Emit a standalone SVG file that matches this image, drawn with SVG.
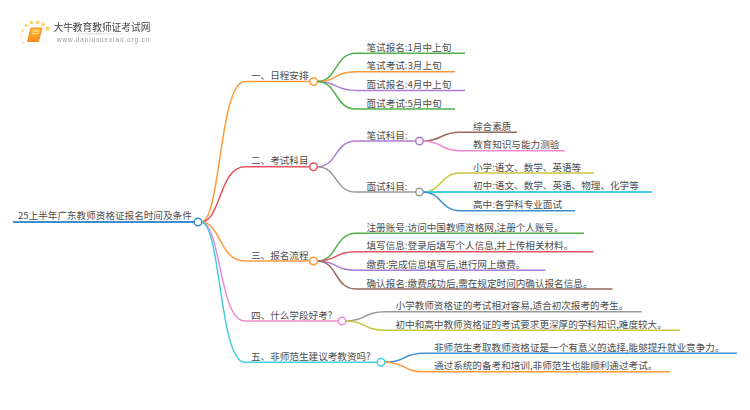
<svg xmlns="http://www.w3.org/2000/svg" width="750" height="410" viewBox="0 0 750 410">
<style>
text{font-family:"Noto Sans CJK SC","Liberation Sans",sans-serif;font-size:9.6px;fill:#4d4d4d}
.c{fill:none;stroke-width:1.5}
.n{fill:#fff;stroke-width:1.5}
.o{stroke:#ff9a3c}.r{stroke:#e5535b}.g{stroke:#4fb14a}.p{stroke:#a97fd4}.a{stroke:#999}
.b{stroke:#3f8fd0}.k{stroke:#f08bd0}.t{stroke:#45d0e0}.y{stroke:#c6c83e}.w{stroke:#9b6a5e}
</style>
<defs>
<linearGradient id="bk" x1="0" y1="0" x2="0" y2="1"><stop offset="0" stop-color="#ffc030"/><stop offset="1" stop-color="#f58a1f"/></linearGradient>
<linearGradient id="ul" x1="0" y1="0" x2="1" y2="0"><stop offset="0" stop-color="#ddd" stop-opacity="0"/><stop offset=".5" stop-color="#ccc"/><stop offset="1" stop-color="#ddd" stop-opacity="0"/></linearGradient>
<filter id="soft" x="-10%" y="-10%" width="120%" height="120%"><feGaussianBlur stdDeviation="0.4"/></filter>
</defs>
<g id="logo" filter="url(#soft)">
<g fill="#ffd36b">
<circle cx="47.500" cy="28.700" r="2.200"/><circle cx="43" cy="24.500" r="1.800"/><circle cx="37.500" cy="22.300" r="1.900"/><circle cx="31.300" cy="22.500" r="1.800"/><circle cx="26" cy="25.500" r="1.500"/><circle cx="22.500" cy="30.500" r="1.200"/><circle cx="21.500" cy="36.500" r="1"/><circle cx="23.500" cy="42.500" r=".9"/>
</g>
<path d="M31 28h11l-3.500 13.500H27.500z" fill="url(#bk)" stroke="#ef8a1e" stroke-width="1"/>
<path d="M32.500 31h6.500M32 33.500h6.500" stroke="#fff3c8" stroke-width=".8" fill="none"/>
<text x="53.500" y="31" style="font-size:9.700px;fill:#444">大牛教育教师证考试网</text>
<rect x="56" y="33.500" width="80" height="1" fill="url(#ul)"/>
<text x="57" y="41.500" style="font-size:6.300px;fill:#999;letter-spacing:.95px;font-family:'Liberation Sans',sans-serif">www.daniuxuexiao.org.cn</text>
</g>
<g id="connectors">
<path class="c b" style="stroke-width:2" d="M13 222H194"/>
<path class="c o" d="M201 222C221 222 219 81.500 245 81.500H310"/>
<path class="c r" d="M201 222C221 222 219 166.700 245 166.700H310"/>
<path class="c o" d="M201 222C221 222 219 261 245 261H310"/>
<path class="c k" d="M201 222C221 222 219 321 245 321H338"/>
<path class="c t" d="M201 222C221 222 219 362.300 245 362.300H377"/>
<path class="c g" d="M317 81.500C338 81.500 334 53.300 356 53.300H465"/>
<path class="c o" d="M317 81.500C338 81.500 334 71.700 356 71.700H455"/>
<path class="c p" d="M317 81.500C338 81.500 334 90.500 356 90.500H465"/>
<path class="c g" d="M317 81.500C338 81.500 334 109 356 109H455"/>
<path class="c p" d="M317 166.700C338 166.700 334 141 356 141H415.500"/>
<path class="c a" d="M317 166.700C338 166.700 334 192 356 192H415.500"/>
<path class="c w" d="M423 141C442 141 440 132.300 460 132.300H517"/>
<path class="c k" d="M423 141C442 141 440 150.700 460 150.700H565"/>
<path class="c y" d="M423 192C442 192 440 173 460 173H594"/>
<path class="c t" style="stroke-width:2" d="M423 192H652"/>
<path class="c b" d="M423 192C442 192 440 210.700 460 210.700H575"/>
<path class="c g" d="M317 261C338 261 334 233.300 356 233.300H584"/>
<path class="c r" d="M317 261C338 261 334 251.700 356 251.700H593.500"/>
<path class="c p" d="M317 261C338 261 334 270.300 356 270.300H545.500"/>
<path class="c w" d="M317 261C338 261 334 289 356 289H612.500"/>
<path class="c a" d="M346 321C367 321 363 311.700 385 311.700H641.700"/>
<path class="c y" d="M346 321C367 321 363 330.300 385 330.300H680"/>
<path class="c b" d="M385 362.300C406 362.300 402 353.300 424 353.300H737"/>
<path class="c o" d="M385 362.300C406 362.300 402 371.700 424 371.700H670"/>
</g>
<g id="root"><text x="18" y="219">25上半年广东教师资格证报名时间及条件</text><circle class="n b" cx="198" cy="222" r="3.800"/></g>
<g id="n1"><text x="251" y="79">一、日程安排</text><circle class="n o" cx="313.500" cy="81.500" r="3.800"/></g>
<g id="n1a"><text x="366.500" y="50.500">笔试报名:1月中上旬</text></g>
<g id="n1b"><text x="366.500" y="69">笔试考试:3月上旬</text></g>
<g id="n1c"><text x="366.500" y="88">面试报名:4月中上旬</text></g>
<g id="n1d"><text x="366.500" y="106.500">面试考试:5月中旬</text></g>
<g id="n2"><text x="251" y="164">二、考试科目</text><circle class="n r" cx="313.500" cy="166.700" r="3.800"/></g>
<g id="n2a"><text x="366.500" y="138.500">笔试科目:</text><circle class="n p" cx="419.500" cy="141" r="3.800"/></g>
<g id="n2b"><text x="366.500" y="189.500">面试科目:</text><circle class="n a" cx="419.500" cy="192" r="3.800"/></g>
<g id="n2a1"><text x="473" y="129.500">综合素质</text></g>
<g id="n2a2"><text x="473" y="148">教育知识与能力测验</text></g>
<g id="n2b1"><text x="473" y="170.500">小学:语文、数学、英语等</text></g>
<g id="n2b2"><text x="473" y="189">初中:语文、数学、英语、物理、化学等</text></g>
<g id="n2b3"><text x="473" y="208">高中:各学科专业面试</text></g>
<g id="n3"><text x="251" y="258.500">三、报名流程</text><circle class="n o" cx="313.500" cy="261" r="3.800"/></g>
<g id="n3a"><text x="366.500" y="230.500">注册账号:访问中国教师资格网,注册个人账号。</text></g>
<g id="n3b"><text x="366.500" y="249">填写信息:登录后填写个人信息,并上传相关材料。</text></g>
<g id="n3c"><text x="366.500" y="267.500">缴费:完成信息填写后,进行网上缴费。</text></g>
<g id="n3d"><text x="366.500" y="286.500">确认报名:缴费成功后,需在规定时间内确认报名信息。</text></g>
<g id="n4"><text x="251" y="318.500">四、什么学段好考?</text><circle class="n k" cx="342" cy="321" r="3.800"/></g>
<g id="n4a"><text x="395.500" y="309">小学教师资格证的考试相对容易,适合初次报考的考生。</text></g>
<g id="n4b"><text x="395.500" y="327.500">初中和高中教师资格证的考试要求更深厚的学科知识,难度较大。</text></g>
<g id="n5"><text x="251" y="359.500">五、非师范生建议考教资吗?</text><circle class="n t" cx="381" cy="362.300" r="3.800"/></g>
<g id="n5a"><text x="434" y="350.500">非师范生考取教师资格证是一个有意义的选择,能够提升就业竞争力。</text></g>
<g id="n5b"><text x="434" y="369">通过系统的备考和培训,非师范生也能顺利通过考试。</text></g>
</svg>
